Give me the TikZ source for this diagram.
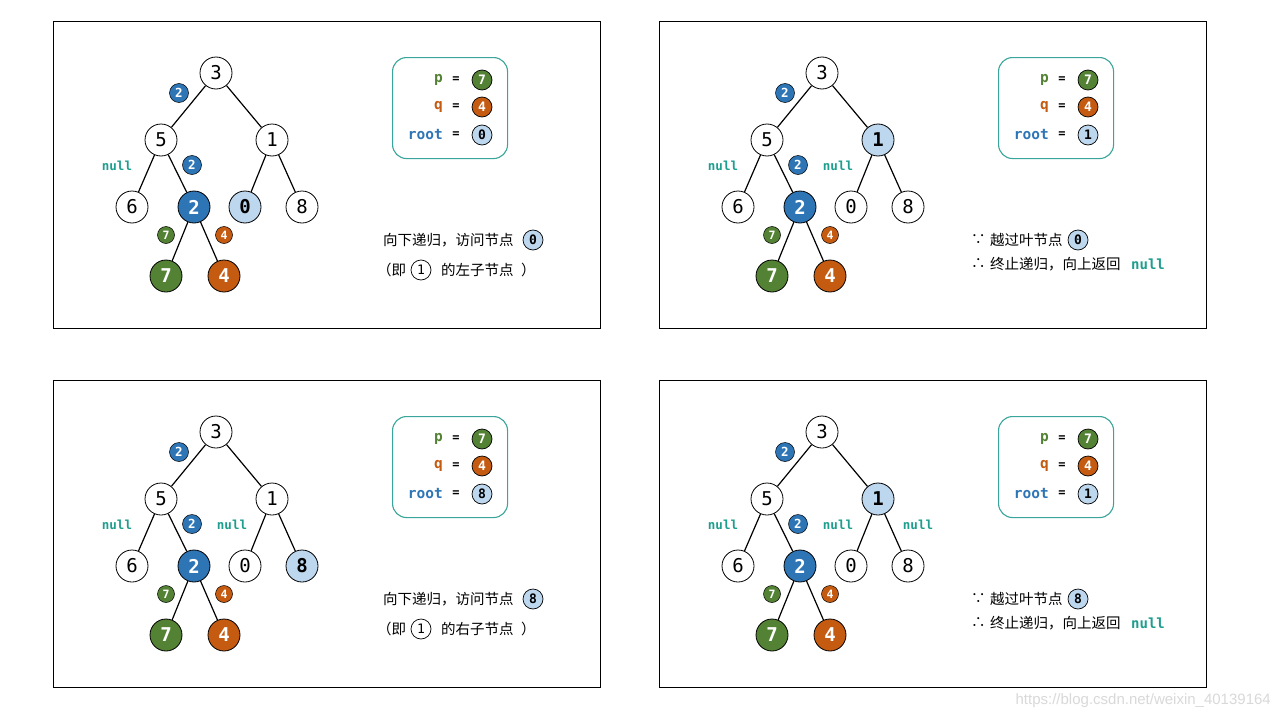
\documentclass[tikz,border=0pt]{standalone}
\usepackage{fontspec}
\setmainfont{DejaVu Sans}
\setmonofont{DejaVu Sans Mono}
\newfontfamily\cjk{Noto Sans CJK SC}
\newfontfamily\wmfont{Liberation Sans}
\definecolor{tblue}{HTML}{2E75B6}
\definecolor{tgreen}{HTML}{548235}
\definecolor{torange}{HTML}{C55A11}
\definecolor{lblue}{HTML}{BDD7EE}
\definecolor{tteal}{HTML}{1E9E8E}
\definecolor{bteal}{HTML}{3AA59A}
\tikzset{
 tn/.style={circle, draw=black, line width=0.8pt, minimum size=32pt, inner sep=0pt, fill=white, font=\ttfamily\fontsize{19}{19}\selectfont},
 hl/.style={fill=lblue, font=\ttfamily\bfseries\fontsize{19}{19}\selectfont},
 bn/.style={fill=tblue, text=white, font=\ttfamily\bfseries\fontsize{19}{19}\selectfont},
 gn/.style={fill=tgreen, text=white, font=\ttfamily\bfseries\fontsize{19}{19}\selectfont},
 on/.style={fill=torange, text=white, font=\ttfamily\bfseries\fontsize{19}{19}\selectfont},
 badge/.style={circle, inner sep=0pt, minimum size=19pt, draw=black, line width=0.5pt, text=white, font=\ttfamily\bfseries\fontsize{12.5}{12.5}\selectfont},
 sbadge/.style={circle, inner sep=0pt, minimum size=17pt, draw=black, line width=0.5pt, text=white, font=\ttfamily\bfseries\fontsize{11.5}{11.5}\selectfont},
 nul/.style={text=tteal, font=\ttfamily\bfseries\fontsize{12.5}{12.5}\selectfont, inner sep=0pt},
 edge/.style={line width=1.2pt},
 panel/.style={draw=black, line width=1.3pt},
 ibox/.style={draw=bteal, line width=1.1pt, rounded corners=14pt},
 lab/.style={font=\ttfamily\bfseries\fontsize{14.5}{14.5}\selectfont, inner sep=0pt, anchor=east},
 eqs/.style={font=\ttfamily\bfseries\fontsize{12}{12}\selectfont, inner sep=0pt},
 ic/.style={circle, draw=black, line width=0.7pt, minimum size=20pt, inner sep=0pt, font=\ttfamily\bfseries\fontsize{13}{13}\selectfont},
 cn/.style={font=\cjk\fontsize{14.5}{14.5}\selectfont, inner sep=0pt, anchor=west},
}
\newcommand\mytree[4]{%
 \node[panel, minimum width=547pt, minimum height=307pt, inner sep=0pt, anchor=north west] (#1frame) at (53,21) {};
 \node[tn] (#1a) at (216,73) {3};
 \node[tn] (#1b) at (161,140) {5};
 \node[tn,#2] (#1c) at (272,140) {1};
 \node[tn] (#1d) at (132,207) {6};
 \node[tn,bn] (#1e) at (194,207) {2};
 \node[tn,#3] (#1f) at (245,207) {0};
 \node[tn,#4] (#1g) at (302,207) {8};
 \node[tn,gn] (#1h) at (166,276) {7};
 \node[tn,on] (#1i) at (224,276) {4};
 \draw[edge] (#1a) -- (#1b);
 \draw[edge] (#1a) -- (#1c);
 \draw[edge] (#1b) -- (#1d);
 \draw[edge] (#1b) -- (#1e);
 \draw[edge] (#1c) -- (#1f);
 \draw[edge] (#1c) -- (#1g);
 \draw[edge] (#1e) -- (#1h);
 \draw[edge] (#1e) -- (#1i);
 \node[badge,fill=tblue] (#1k) at (179,93) {2};
 \node[badge,fill=tblue] (#1l) at (192,165) {2};
 \node[sbadge,fill=tgreen] (#1m) at (166,235) {7};
 \node[sbadge,fill=torange] (#1n) at (224,235) {4};
 \node[nul] (#1o) at (117,166) {null};
}
\newcommand\myinfo[2]{%
 \node[ibox, minimum width=115pt, minimum height=101pt, inner sep=0pt, anchor=north west] (#1box) at (392,57) {};
 \node[lab, text=tgreen] (#1p) at (443,80) {p};
 \node[lab, text=torange] (#1q) at (443,107) {q};
 \node[lab, text=tblue] (#1r) at (443,135) {root};
 \node[eqs] (#1e1) at (456,80) {=};
 \node[eqs] (#1e2) at (456,107) {=};
 \node[eqs] (#1e3) at (456,135) {=};
 \node[ic, fill=tgreen, text=white] (#1c1) at (482,80) {7};
 \node[ic, fill=torange, text=white] (#1c2) at (482,107) {4};
 \node[ic, fill=lblue] (#1c3) at (482,135) {#2};
}
\newcommand\downtext[3]{% prefix, digit, side
 \node[cn] (#1t1) at (383,240) {向下递归，访问节点};
 \node[ic, fill=lblue] (#1t2) at (533,240) {#2};
 \node[cn] (#1t3) at (377,270) {（即};
 \node[ic, fill=white, font=\ttfamily\fontsize{13}{13}\selectfont] (#1t4) at (421,270) {1};
 \node[cn] (#1t5) at (441,270) {的#3子节点};
 \node[cn] (#1t6) at (521,270) {）};
}
\newcommand\uptext[2]{% prefix, digit
 \node[cn] (#1u1) at (365,240) {∵};
 \node[cn] (#1u2) at (384,240) {越过叶节点};
 \node[ic, fill=lblue] (#1u3) at (472,240) {#2};
 \node[cn] (#1u4) at (365,264) {∴};
 \node[cn] (#1u5) at (384,264) {终止递归，向上返回};
 \node[nul, anchor=west, font=\ttfamily\bfseries\fontsize{14}{14}\selectfont] (#1u6) at (525,264) {null};
}
\begin{document}
\begin{tikzpicture}[x=1pt,y=-1pt]
\useasboundingbox[fill=white] (0,0) rectangle (1280,720);
% panel 1
\begin{scope}
 \mytree{A}{}{hl}{}
 \myinfo{A}{0}
 \downtext{A}{0}{左}
\end{scope}
% panel 2
\begin{scope}[shift={(606,0)}]
 \mytree{B}{hl}{}{}
 \node[nul] (Bnull2) at (232,166) {null};
 \myinfo{B}{1}
 \uptext{B}{0}
\end{scope}
% panel 3
\begin{scope}[shift={(0,359)}]
 \mytree{C}{}{}{hl}
 \node[nul] (Cnull2) at (232,166) {null};
 \myinfo{C}{8}
 \downtext{C}{8}{右}
\end{scope}
% panel 4
\begin{scope}[shift={(606,359)}]
 \mytree{D}{hl}{}{}
 \node[nul] (Dnull2) at (232,166) {null};
 \node[nul] (Dnull3) at (312,166) {null};
 \myinfo{D}{1}
 \uptext{D}{8}
\end{scope}
\node[anchor=east, text=black!15, font=\wmfont\fontsize{15}{15}\selectfont, inner sep=0pt] (wm) at (1271,701) {https://blog.csdn.net/weixin\_40139164};
\end{tikzpicture}
\end{document}
